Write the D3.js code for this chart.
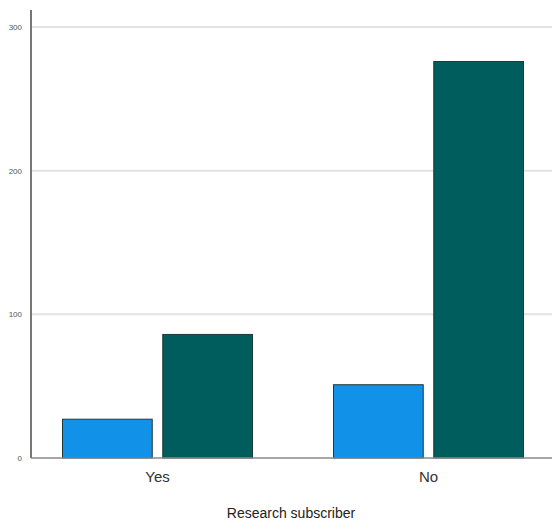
<!DOCTYPE html>
<html><head><meta charset="utf-8">
<script src="https://cdn.jsdelivr.net/npm/d3@7"></script>
<style>body{margin:0;background:#fff}svg{display:block}</style>
</head><body>
<svg id="c" width="552" height="523"></svg>
<script>
const categories = ["Yes", "No"];
const seriesNames = ["A", "B"];
const seriesA = [27, 51];
const seriesB = [86, 276];
const yTicks = [0, 100, 200, 300];
const colors = ["#1192e8", "#005d5d"];

const svg = d3.select("#c");
const W = 552, H = 523;
const axisX = 31, baseY = 458, topY = 10;
const y = d3.scaleLinear().domain([0, 300]).range([baseY, 27]);
const x = d3.scaleBand().domain(categories).range([22, 564]).padding(0);
const groupW = 190;
const xs = d3.scaleBand().domain(seriesNames).range([0, groupW]).paddingInner(0.105);

// gridlines
svg.append("g").selectAll("line").data(yTicks.filter(d => d > 0)).join("line")
  .attr("x1", axisX).attr("x2", W).attr("y1", d => y(d)).attr("y2", d => y(d))
  .attr("stroke", "#e2e2e2").attr("stroke-width", 2);

// bars
const data = categories.map((c, i) => ({c, vals: [seriesA[i], seriesB[i]]}));
const g = svg.append("g");
data.forEach(d => {
  d.vals.forEach((v, j) => {
    const x0 = x(d.c) + (x.bandwidth() - groupW) / 2 + xs(seriesNames[j]);
    g.append("rect")
      .attr("x", x0).attr("y", y(v))
      .attr("width", xs.bandwidth()).attr("height", y(0) - y(v))
      .attr("fill", colors[j]).attr("stroke", "#1e3a3a").attr("stroke-width", 1);
  });
});

// y axis
const yAxis = d3.axisLeft(y).tickValues(yTicks).tickSize(0).tickPadding(9);
const ya = svg.append("g").attr("transform", `translate(${axisX},0)`).call(yAxis);
ya.select(".domain").remove();
ya.selectAll("text").attr("font-family", "Liberation Sans, Arial, sans-serif")
  .attr("font-size", 8).attr("fill", "#555");
svg.append("line").attr("x1", axisX).attr("x2", axisX).attr("y1", topY).attr("y2", baseY)
  .attr("stroke", "#777").attr("stroke-width", 2);

// x axis
const xAxis = d3.axisBottom(x).tickSize(0).tickPadding(13);
const xa = svg.append("g").attr("transform", `translate(0,${baseY})`).call(xAxis);
xa.select(".domain").remove();
xa.selectAll("text").attr("font-family", "Liberation Sans, Arial, sans-serif")
  .attr("font-size", 15).attr("fill", "#333");
svg.append("line").attr("x1", axisX).attr("x2", W).attr("y1", baseY).attr("y2", baseY)
  .attr("stroke", "#888").attr("stroke-width", 1.5);

svg.append("text").attr("x", 291).attr("y", 518).attr("text-anchor", "middle")
  .attr("font-family", "Liberation Sans, Arial, sans-serif")
  .attr("font-size", 14).attr("fill", "#222").text("Research subscriber");
</script>
</body></html>
